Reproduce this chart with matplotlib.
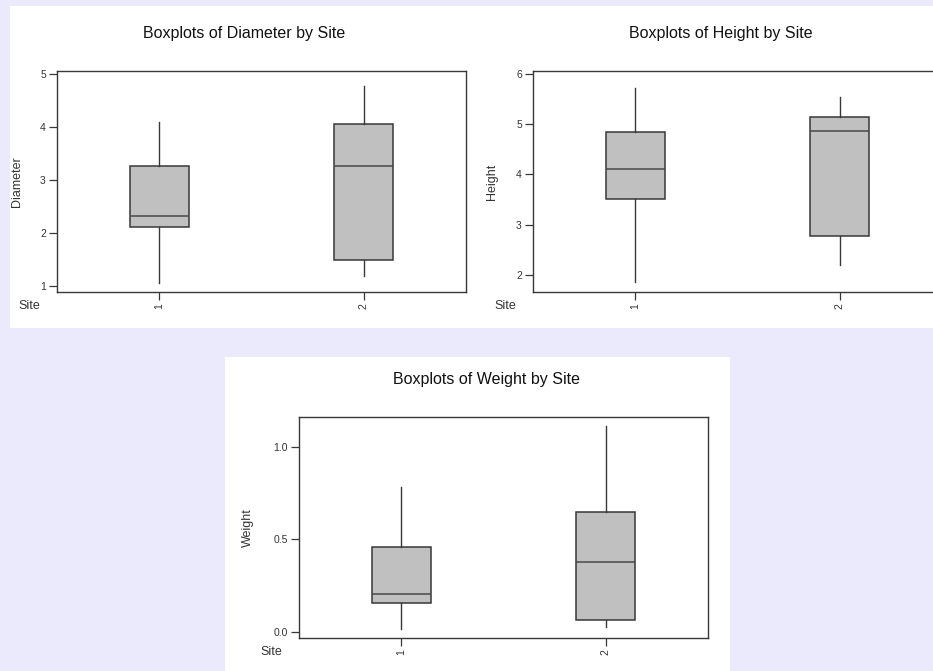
import matplotlib
matplotlib.use("Agg")
import matplotlib.pyplot as plt
from matplotlib.patches import Rectangle

plt.rcParams['font.family'] = ['Liberation Sans', 'DejaVu Sans']

sites = ["1", "2"]

# five-number summaries per site: low whisker, Q1, median, Q3, high whisker
diameter_low = [1.06, 1.18]
diameter_q1 = [2.12, 1.49]
diameter_med = [2.32, 3.26]
diameter_q3 = [3.26, 4.05]
diameter_high = [4.10, 4.77]

height_low = [1.85, 2.19]
height_q1 = [3.51, 2.78]
height_med = [4.11, 4.85]
height_q3 = [4.84, 5.13]
height_high = [5.72, 5.53]

weight_low = [0.016, 0.023]
weight_q1 = [0.155, 0.061]
weight_med = [0.204, 0.377]
weight_q3 = [0.458, 0.647]
weight_high = [0.78, 1.11]

diameter_ticks = [1, 2, 3, 4, 5]
height_ticks = [2, 3, 4, 5, 6]
weight_ticks = [0.0, 0.5, 1.0]

W, H = 933, 671
fig = plt.figure(figsize=(W / 100, H / 100), dpi=100)
fig.patch.set_facecolor('#eaeafc')

# white "slide" panels behind the charts
for x0, y0, x1, y1 in [(10, 6, 933, 328), (225, 357, 730, 671)]:
    fig.patches.append(Rectangle((x0 / W, 1 - y1 / H), (x1 - x0) / W, (y1 - y0) / H,
                                 transform=fig.transFigure, facecolor='white',
                                 edgecolor='none', zorder=-10))

EDGE = '#383838'


def box_panel(rect_px, lows, q1s, meds, q3s, highs, ylim, yticks, yfmt,
              ylabel, title, label_x):
    x0, y0, x1, y1 = rect_px
    ax = fig.add_axes([x0 / W, 1 - y1 / H, (x1 - x0) / W, (y1 - y0) / H])
    ax.set_facecolor('white')
    stats = []
    for i in range(len(sites)):
        stats.append(dict(whislo=lows[i], q1=q1s[i], med=meds[i], q3=q3s[i],
                          whishi=highs[i], fliers=[], label=sites[i]))
    ax.bxp(stats, positions=[1, 2], widths=0.29, patch_artist=True,
           showcaps=False, showfliers=False,
           boxprops=dict(facecolor='#c0c0c0', edgecolor=EDGE, linewidth=1.1),
           medianprops=dict(color='#484848', linewidth=1.1),
           whiskerprops=dict(color=EDGE, linewidth=1.0))
    ax.set_xlim(0.5, 2.5)
    ax.set_ylim(*ylim)
    ax.set_yticks(yticks)
    ax.set_yticklabels([yfmt.format(v) for v in yticks])
    ax.set_xticks([1, 2])
    ax.set_xticklabels(sites, rotation=90)
    ax.tick_params(axis='both', length=6, width=0.9, color=EDGE,
                   labelsize=7.5, labelcolor='#333333', pad=2)
    for s in ax.spines.values():
        s.set_color(EDGE)
        s.set_linewidth(1.0)
    ax.set_ylabel(ylabel, fontsize=9, color='#333333')
    ax.yaxis.set_label_coords(label_x, 0.5)
    ax.text(-0.068, -0.063, "Site", transform=ax.transAxes,
            fontsize=9, color='#333333', ha='center', va='center')
    ax.set_title(title, fontsize=11.5, pad=24, x=0.458, color='#111111')
    return ax


box_panel((57, 71, 466, 292), diameter_low, diameter_q1, diameter_med,
          diameter_q3, diameter_high, (0.887, 5.057), diameter_ticks, "{:d}",
          "Diameter", "Boxplots of Diameter by Site", -0.083)

box_panel((533, 71, 942, 292), height_low, height_q1, height_med,
          height_q3, height_high, (1.66, 6.05), height_ticks, "{:d}",
          "Height", "Boxplots of Height by Site", -0.085)

box_panel((299, 417, 708, 638), weight_low, weight_q1, weight_med,
          weight_q3, weight_high, (-0.034, 1.16), weight_ticks, "{:.1f}",
          "Weight", "Boxplots of Weight by Site", -0.11)

fig.savefig("out.png", dpi=100)
